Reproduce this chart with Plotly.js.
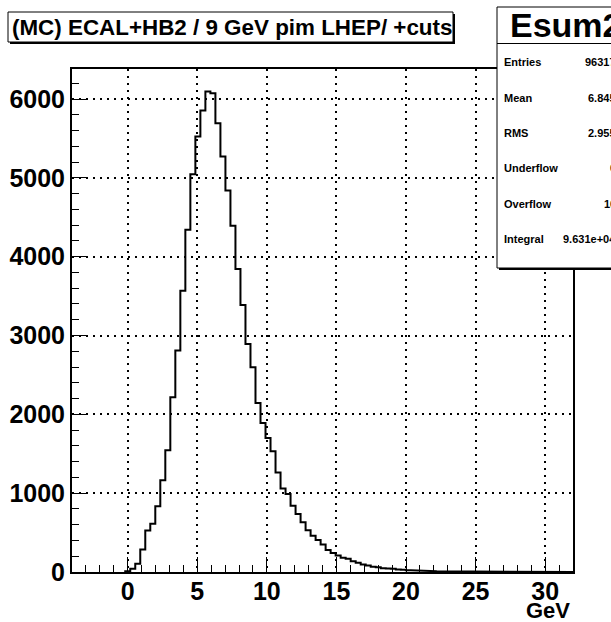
<!DOCTYPE html>
<html>
<head>
<meta charset="utf-8">
<script src="https://cdn.plot.ly/plotly-3.0.1.min.js"></script>
<style>html,body{margin:0;padding:0;background:#fff;}#chart{width:611px;height:622px;}</style>
</head>
<body>
<div id="chart"></div>
<script>
// ---- data ----
const chartTitle = "(MC) ECAL+HB2 / 9 GeV pim LHEP/ +cuts";
const histName = "Esum2";
const xTitle = "GeV";
const binLow = -0.175;     // lower edge of first listed bin (GeV)
const binWidth = 0.36;     // GeV
const counts = [10, 40, 104, 285, 526, 611, 834, 1164, 1544, 2216, 2811, 3568, 4341, 5047, 5524, 5853, 6094, 6073, 5693, 5270,
  4840, 4392, 3843, 3387, 2892, 2596, 2144, 1891, 1701, 1531, 1262, 1060, 990, 840, 735, 630, 530, 460, 405, 349,
  280, 240, 209, 180, 167, 137, 117, 95, 82, 66, 61, 48, 44, 40, 32, 30, 23, 22, 18, 15,
  12, 10, 8, 7, 5, 5, 4, 3, 3, 2, 2, 1, 1, 1, 1];
const statLabels = ["Entries", "Mean", "RMS", "Underflow", "Overflow", "Integral"];
const statValues = ["96317", "6.845", "2.955", "0", "10", "9.631e+04"];
const xTickVals = [0, 5, 10, 15, 20, 25, 30];
const yTickVals = [0, 1000, 2000, 3000, 4000, 5000, 6000];

// ---- build step outline ----
const xs = [binLow], ys = [0];
counts.forEach((c, i) => {
  const lo = binLow + i * binWidth, hi = lo + binWidth;
  xs.push(lo, hi); ys.push(c, c);
});
xs.push(binLow + counts.length * binWidth); ys.push(0);
xs.push(32); ys.push(0);

const W = 611, H = 622, L = 72, R = 38, T = 69, B = 50;
const pw = W - L - R, ph = H - T - B;
const px = x => (x - L) / pw;
const py = y => (H - B - y) / ph;

const FONT = "Liberation Sans, Arial, Helvetica, sans-serif";
const shapes = [];
function shadowBox(x0, y0, x1, y1, sh) {
  shapes.push({type: 'rect', xref: 'paper', yref: 'paper', x0: px(x0 + sh), x1: px(x1 + sh), y0: py(y0 + sh), y1: py(y1 + sh),
    fillcolor: 'black', line: {width: 0}, layer: 'above'});
  shapes.push({type: 'rect', xref: 'paper', yref: 'paper', x0: px(x0), x1: px(x1), y0: py(y0), y1: py(y1),
    fillcolor: 'white', line: {color: 'black', width: 1}, layer: 'above'});
}
shadowBox(8, 12, 453, 42, 2);
shadowBox(497, 7, 660, 268, 2);
shapes.push({type: 'line', xref: 'paper', yref: 'paper', x0: px(497), x1: px(660), y0: py(43.5), y1: py(43.5),
  line: {color: 'black', width: 1}, layer: 'above'});

const annotations = [];
annotations.push({text: chartTitle, xref: 'paper', yref: 'paper', x: px(10), y: py(27.5), xanchor: 'left', yanchor: 'middle',
  showarrow: false, font: {family: FONT, size: 22.4, color: 'black', weight: 'bold'}});
annotations.push({text: histName, xref: 'paper', yref: 'paper', x: px(508), y: py(25.5), xanchor: 'left', yanchor: 'middle',
  showarrow: false, font: {family: FONT, size: 34, color: 'black', weight: 'bold'}});
statLabels.forEach((s, i) => {
  const yy = 62.5 + i * 35.3;
  annotations.push({text: s, xref: 'paper', yref: 'paper', x: px(502), y: py(yy), xanchor: 'left', yanchor: 'middle',
    showarrow: false, font: {family: FONT, size: 11, color: 'black', weight: 'bold'}});
  annotations.push({text: statValues[i], xref: 'paper', yref: 'paper', x: px(618), y: py(yy), xanchor: 'right', yanchor: 'middle',
    showarrow: false, font: {family: FONT, size: 11, color: 'black', weight: 'bold'}});
});
annotations.push({text: xTitle, xref: 'paper', yref: 'paper', x: px(572), y: py(610), xanchor: 'right', yanchor: 'middle',
  showarrow: false, font: {family: FONT, size: 22, color: 'black', weight: 'bold'}});

const trace = {x: xs, y: ys, type: 'scatter', mode: 'lines', line: {color: 'black', width: 2, shape: 'linear'},
  hoverinfo: 'skip', cliponaxis: true};

const gridDash = '2px,5px';
const layout = {
  width: W, height: H,
  margin: {l: L, r: R, t: T, b: B, pad: 0},
  paper_bgcolor: 'white', plot_bgcolor: 'white',
  showlegend: false,
  font: {family: FONT, color: 'black'},
  xaxis: {range: [-4, 32], tickmode: 'array', tickvals: xTickVals, ticktext: xTickVals.map(String),
    ticks: 'inside', ticklen: 15, tickwidth: 1, tickcolor: 'black', ticklabelstandoff: -4,
    showline: true, linecolor: 'black', linewidth: 2, mirror: true,
    showgrid: true, gridcolor: '#000000', gridwidth: 2, griddash: gridDash, zeroline: false,
    minor: {dtick: 1, tick0: 0, ticks: 'inside', ticklen: 7, tickcolor: 'black', tickwidth: 1},
    tickfont: {family: FONT, size: 25, color: 'black', weight: 'bold'}},
  yaxis: {range: [0, 6381], tickmode: 'array', tickvals: yTickVals, ticktext: yTickVals.map(String),
    ticks: 'inside', ticklen: 15, tickwidth: 1, tickcolor: 'black',
    showline: true, linecolor: 'black', linewidth: 2, mirror: true,
    showgrid: true, gridcolor: '#000000', gridwidth: 2, griddash: gridDash, zeroline: false,
    minor: {dtick: 200, tick0: 0, ticks: 'inside', ticklen: 7, tickcolor: 'black', tickwidth: 1},
    tickfont: {family: FONT, size: 25, color: 'black', weight: 'bold'}},
  shapes: shapes,
  annotations: annotations
};
Plotly.newPlot('chart', [trace], layout, {staticPlot: true, displayModeBar: false});
</script>
</body>
</html>
